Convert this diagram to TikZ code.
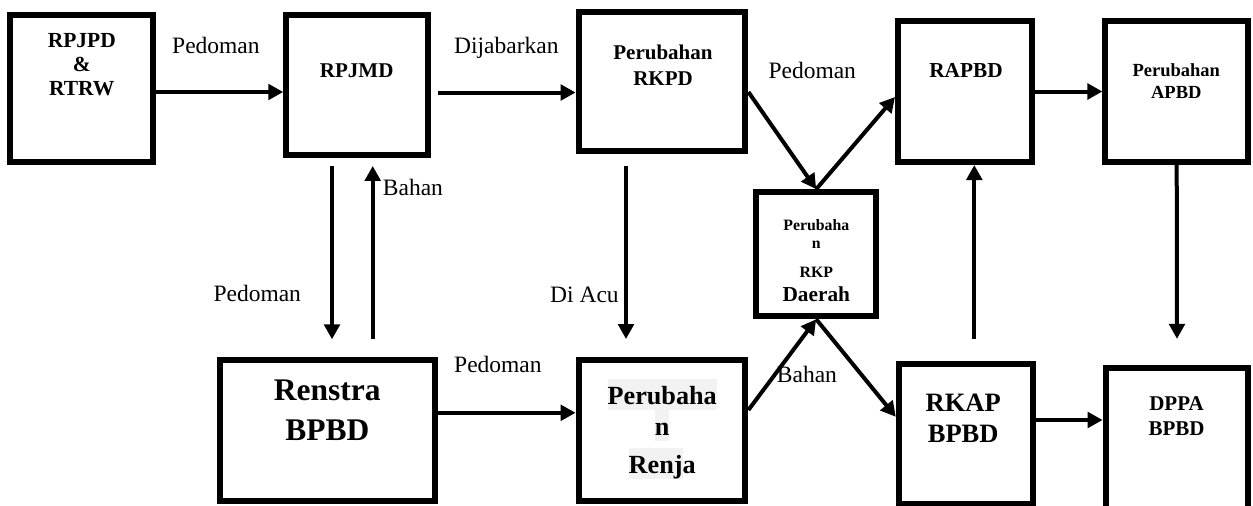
\documentclass[tikz,border=0pt]{standalone}
\usepackage{fontspec}
\setmainfont{Liberation Serif}
\usepackage{tikz}
\usetikzlibrary{arrows.meta}

\definecolor{hlgray}{HTML}{F2F2F2}
\newcommand{\greyhl}[1]{{\setlength{\fboxsep}{0pt}\colorbox{hlgray}{\rule[-6pt]{0pt}{31pt}#1}}}

\begin{document}
\begin{tikzpicture}[
  x=1pt,y=-1pt,
  box/.style={draw,line width=6pt,inner sep=0pt},
  txt/.style={inner sep=0pt,align=center,anchor=north},
  lbl/.style={inner sep=0pt,anchor=base west,font=\fontsize{23.5}{27}\selectfont},
  arr/.style={line width=4pt,-{Triangle[length=15pt,width=15.5pt]}}]
\useasboundingbox (0,0) rectangle (1253,506);
% boxes
\node[box,minimum width=142.7pt,minimum height=147.3pt] (rpjpd) at (81.7,88.3) {};
\node[box,minimum width=141.5pt,minimum height=140.8pt] (rpjmd) at (357,85) {};
\node[box,minimum width=166.8pt,minimum height=139pt] (rkpd) at (662,81.6) {};
\node[box,minimum width=134pt,minimum height=141pt] (rapbd) at (965,91.5) {};
\node[box,minimum width=142.5pt,minimum height=141pt] (papbd) at (1176.7,91.5) {};
\node[box,minimum width=119.9pt,minimum height=124.1pt] (daerah) at (816.2,254.2) {};
\node[box,minimum width=215pt,minimum height=140.9pt] (renstra) at (327,430.8) {};
\node[box,minimum width=166.8pt,minimum height=140.9pt] (renja) at (662,430.8) {};
\node[box,minimum width=134pt,minimum height=140pt] (rkap) at (965.8,433.8) {};
\node[box,minimum width=142.8pt,minimum height=152pt] (dppa) at (1177,443.9) {};
% box texts
\node[txt,font=\bfseries\fontsize{21.5}{24.2}\selectfont] (trpjpd) at (81.8,33.3) {RPJPD\\\&\\RTRW};
\node[txt,font=\bfseries\fontsize{21}{24}\selectfont] (trpjmd) at (356.7,63.3) {RPJMD};
\node[txt,font=\bfseries\fontsize{21}{25.7}\selectfont] (trkpd) at (663,45) {Perubahan\\RKPD};
\node[txt,font=\bfseries\fontsize{21.3}{24}\selectfont] (trapbd) at (966,63.3) {RAPBD};
\node[txt,font=\bfseries\fontsize{18.5}{21.7}\selectfont] (tpapbd) at (1176.3,63.3) {Perubahan\\APBD};
\node[txt,font=\bfseries\fontsize{15.8}{18.3}\selectfont] (tdaerah) at (816.3,219.5)
  {Perubaha\\n\\[10.7pt]RKP\\[5pt]{\fontsize{21.3}{24}\selectfont Daerah}};
\node[txt,font=\bfseries\fontsize{31.5}{39.4}\selectfont] (trenstra) at (327.3,380) {Renstra\\BPBD};
\node[txt,font=\bfseries\fontsize{26.2}{31}\selectfont] (trenja) at (662.2,379)
  {\greyhl{Perubaha}\\\greyhl{n}\\[7pt]\greyhl{Renj}a};
\node[txt,font=\bfseries\fontsize{26.5}{31}\selectfont] (trkap) at (963.2,394.3) {RKAP\\BPBD};
\node[txt,font=\bfseries\fontsize{21}{25}\selectfont] (tdppa) at (1176.5,396.7) {DPPA\\BPBD};
% connector labels
\node[lbl] (lpedA) at (172,53) {Pedoman};
\node[lbl] (ldijab) at (454,53.3) {Dijabarkan};
\node[lbl] (lpedB) at (768.3,78.3) {Pedoman};
\node[lbl] (lbahA) at (382.7,195) {Bahan};
\node[lbl] (lpedC) at (213.3,301.7) {Pedoman};
\node[lbl] (lacu) at (550,302.3) {Di Acu};
\node[lbl] (lpedD) at (454,372.7) {Pedoman};
\node[lbl] (lbahB) at (776.7,382.7) {Bahan};
% connectors
\draw[arr] ([yshift=-3.7pt]rpjpd.east) -- ([yshift=-7pt]rpjmd.west);
\draw[arr] ([xshift=7pt,yshift=-7.5pt]rpjmd.east) -- ([yshift=-10.9pt]rkpd.west);
\draw[arr] ([yshift=-10.4pt]rkpd.east) -- (daerah.north);
\draw[arr] (daerah.north) -- ([yshift=-5.5pt]rapbd.west);
\draw[arr] (rapbd.east) -- (papbd.west);
\draw[arr] ([xshift=-25pt,yshift=-7.5pt]rpjmd.south) -- ([xshift=5pt,yshift=18pt]renstra.north);
\draw[arr] ([xshift=45.7pt,yshift=18pt]renstra.north) -- ([xshift=15.7pt,yshift=-7.5pt]rpjmd.south);
\draw[arr] ([xshift=-36pt,yshift=-11.8pt]rkpd.south) -- ([xshift=-36pt,yshift=18.3pt]renja.north);
\draw[arr] ([yshift=18pt]renstra.east) -- ([yshift=18pt]renja.west);
\draw[arr] ([yshift=20.8pt]renja.east) -- (daerah.south);
\draw[arr] (daerah.south) -- ([yshift=17pt]rkap.west);
\draw[arr] ([xshift=8.5pt,yshift=22pt]rkap.north) -- ([xshift=9.3pt]rapbd.south);
\draw[arr] (papbd.south) -- ([yshift=26pt]dppa.north);
\draw[arr] ([yshift=13.8pt]rkap.east) -- ([yshift=23.9pt]dppa.west);
\end{tikzpicture}
\end{document}
